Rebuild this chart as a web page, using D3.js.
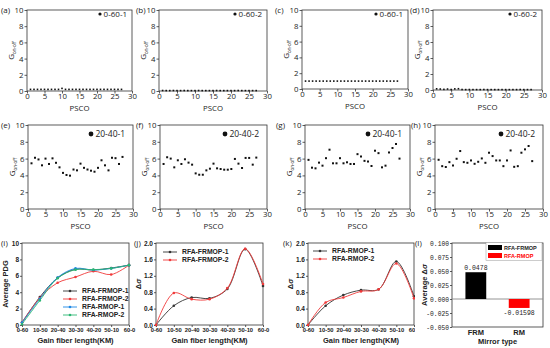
<!DOCTYPE html>
<html>
<head>
<meta charset="utf-8">
<script src="https://cdn.jsdelivr.net/npm/d3@7"></script>
<style>
  body { margin: 0; background: #fff; }
  svg { display: block; }
</style>
</head>
<body>
<div id="chart"></div>
<script>
// ---- data ----
const psco = [1, 2, 3, 4, 5, 6, 7, 8, 9, 10, 11, 12, 13, 14, 15, 16, 17, 18, 19, 20, 21, 22, 23, 24, 25, 26, 27];
const psTicks = [0, 5, 10, 15, 20, 25, 30];
const gTicks = [0, 2, 4, 6, 8, 10];

const onOffA = [0.2, 0.2, 0.2, 0.2, 0.2, 0.2, 0.2, 0.2, 0.2, 0.32, 0.2, 0.2, 0.2, 0.2, 0.2, 0.2, 0.2, 0.2, 0.2, 0.2, 0.2, 0.2, 0.2, 0.2, 0.2, 0.2, 0.2];
const onOffB = [0.06, 0.05, 0.05, 0.06, 0.05, 0.05, 0.06, 0.05, 0.05, 0.05, 0.06, 0.05, 0.05, 0.05, 0.05, 0.06, 0.05, 0.05, 0.05, 0.05, 0.05, 0.06, 0.05, 0.05, 0.05, 0.05, 0.05];
const onOffC = [1.0, 1.0, 1.0, 1.0, 1.0, 1.0, 1.0, 1.0, 1.0, 1.0, 1.0, 1.0, 1.0, 1.0, 1.0, 1.0, 1.0, 1.0, 1.0, 1.0, 1.0, 1.0, 1.0, 1.0, 1.0, 1.0, 1.0];
const onOffD = [0.15, 0.12, 0.08, 0.12, 0.06, 0.14, 0.16, 0.06, 0.05, 0.06, 0.05, 0.05, 0.05, 0.06, 0.05, 0.05, 0.05, 0.05, 0.05, 0.05, 0.05, 0.05, 0.05, 0.06, 0.05, 0.05, 0.05];
const onOffE = [5.44, 6.1, 5.9, 5.2, 6.0, 5.36, 6.03, 5.5, 4.96, 4.3, 4.05, 3.97, 4.7, 4.6, 5.4, 4.9, 4.7, 4.56, 4.44, 4.9, 5.8, 5.2, 4.6, 6.1, 6.05, 5.36, 6.2];
const onOffF = [5.36, 6.16, 6.0, 4.96, 5.8, 5.36, 5.92, 5.52, 5.28, 4.24, 4.08, 4.08, 4.6, 4.8, 5.4, 4.84, 4.76, 4.68, 4.68, 4.76, 5.96, 5.4, 4.88, 6.08, 6.08, 5.28, 6.12];
const onOffG = [5.85, 4.92, 4.84, 5.52, 5.16, 6.05, 7.06, 5.44, 5.44, 6.05, 5.44, 5.56, 5.36, 5.36, 6.53, 6.25, 5.73, 5.65, 5.12, 6.94, 6.65, 4.96, 5.16, 6.73, 7.26, 7.74, 6.0];
const onOffH = [5.86, 5.1, 5.0, 5.58, 5.18, 5.98, 6.9, 5.58, 5.5, 5.78, 5.38, 5.62, 6.02, 5.5, 6.7, 6.3, 5.78, 5.78, 5.1, 5.78, 6.97, 5.02, 5.1, 6.7, 7.1, 7.5, 5.7];

const fibers = ['0-60', '10-50', '20-40', '30-30', '40-20', '50-10', '60-0'];
const pdgFrmop1 = [0.3, 3.4, 5.75, 6.8, 6.7, 6.95, 7.3];
const pdgFrmop2 = [0.3, 3.3, 5.15, 5.85, 6.55, 6.15, 7.3];
const pdgRmop1 = [0.3, 3.2, 5.8, 6.9, 6.7, 6.9, 7.3];
const pdgRmop2 = [0.1, 3.0, 5.7, 6.75, 6.75, 6.9, 7.3];
const pdgTicks = [0, 2, 4, 6, 8, 10];

const dsFrmop1 = [0.0, 0.47, 0.67, 0.65, 0.88, 1.85, 0.95];
const dsFrmop2 = [0.0, 0.78, 0.63, 0.63, 0.9, 1.86, 1.0];
const dsRmop1 = [0.0, 0.47, 0.73, 0.85, 0.87, 1.55, 0.7];
const dsRmop2 = [0.0, 0.55, 0.67, 0.82, 0.87, 1.5, 0.65];
const dsTicks = [0, 0.4, 0.8, 1.2, 1.6, 2.0];

const mirrors = ['FRM', 'RM'];
const avgDs = [0.0478, -0.01598];
const avgLabels = ['0.0478', '-0.01598'];
const avgTicks = [0.1, 0.075, 0.05, 0.025, 0, -0.025, -0.05];

// ---- canvas ----
const svg = d3.select('#chart').append('svg')
  .attr('width', 550).attr('height', 348)
  .style('font-family', "'Open Sans', sans-serif");

const ink = '#222';

function styleAxis(ax, size, weight, family) {
  ax.select('.domain').remove();
  ax.selectAll('line').attr('stroke', '#333').attr('stroke-width', 0.8);
  ax.selectAll('text')
    .attr('fill', ink)
    .style('font-size', size + 'px')
    .style('font-weight', weight)
    .style('font-family', family);
}

function box(g, l, r, t, b) {
  g.append('rect')
    .attr('x', l).attr('y', t)
    .attr('width', r - l).attr('height', b - t)
    .attr('fill', 'none').attr('stroke', '#333').attr('stroke-width', 0.8);
}

// scatter panels (a)-(h)
function scatterPanel(p) {
  const x = d3.scaleLinear().domain([0, 30]).range([p.l, p.r]);
  const y = d3.scaleLinear().domain([0, 10]).range([p.b, p.t]);
  const g = svg.append('g');
  const sans = "'Open Sans', sans-serif";

  const xa = g.append('g').attr('transform', `translate(0,${p.b})`)
    .call(d3.axisBottom(x).tickValues(psTicks).tickSize(2.5).tickPadding(0));
  styleAxis(xa, 7.8, 400, sans);
  const ya = g.append('g').attr('transform', `translate(${p.l},0)`)
    .call(d3.axisLeft(y).tickValues(gTicks).tickSize(2.5).tickPadding(1));
  styleAxis(ya, 7.8, 400, sans);
  box(g, p.l, p.r, p.t, p.b);

  g.selectAll('rect.pt')
    .data(p.vals)
    .join('rect')
    .attr('class', 'pt')
    .attr('x', (d, i) => x(psco[i]) - p.ms / 2)
    .attr('y', (d) => y(d) - p.ms / 2)
    .attr('width', p.ms).attr('height', p.ms)
    .attr('fill', '#111');

  // legend
  g.append('circle').attr('cx', p.r - p.legDx).attr('cy', p.t + p.legDy)
    .attr('r', p.legR).attr('fill', '#111');
  g.append('text').attr('x', p.r - p.legDx + p.legR + 2).attr('y', p.t + p.legDy + 3)
    .attr('fill', ink).style('font-size', p.legSize + 'px').text(p.name);

  // titles
  g.append('text').attr('x', (p.l + p.r) / 2).attr('y', p.b + 19.5)
    .attr('text-anchor', 'middle').attr('fill', ink).style('font-size', '7.8px').text('PSCO');
  const yl = g.append('text')
    .attr('transform', `translate(${p.l - 13},${(p.t + p.b) / 2}) rotate(-90)`)
    .attr('text-anchor', 'middle').attr('fill', ink).style('font-size', '8px');
  yl.append('tspan').text('G');
  yl.append('tspan').attr('dy', 2).style('font-size', '4.5px').text('on-off');

  g.append('text').attr('x', p.lx).attr('y', p.t + 3)
    .attr('fill', ink).style('font-size', '8px').text(p.letter);
}

const rowA = { t: 10, legDx: 32, legDy: 4, legR: 1.6, legSize: 8, ms: 1.6 };
scatterPanel({ ...rowA, l: 27, r: 132, b: 91, vals: onOffA, name: '0-60-1', letter: '(a)', lx: 1 });
scatterPanel({ ...rowA, l: 159, r: 267, b: 91, vals: onOffB, name: '0-60-2', letter: '(b)', lx: 136 });
scatterPanel({ ...rowA, l: 302, r: 408, b: 89, vals: onOffC, name: '0-60-1', letter: '(c)', lx: 275 });
scatterPanel({ ...rowA, l: 433, r: 542, b: 90, vals: onOffD, name: '0-60-2', letter: '(d)', lx: 410 });

const rowE = { t: 125, b: 209, legDx: 42, legDy: 9, legR: 2.4, legSize: 8.5, ms: 2 };
scatterPanel({ ...rowE, l: 28, r: 133, vals: onOffE, name: '20-40-1', letter: '(e)', lx: 1 });
scatterPanel({ ...rowE, l: 160, r: 267, vals: onOffF, name: '20-40-2', letter: '(f)', lx: 136 });
scatterPanel({ ...rowE, l: 305, r: 410, vals: onOffG, name: '20-40-1', letter: '(g)', lx: 276 });
scatterPanel({ ...rowE, l: 435, r: 543, vals: onOffH, name: '20-40-2', letter: '(h)', lx: 411 });

// line panels (i)-(k)
const bold = "'Liberation Sans', Arial, sans-serif";

function linePanel(p) {
  const x = d3.scalePoint().domain(fibers).range([p.l, p.r]);
  const y = d3.scaleLinear().domain(p.yDomain).range([p.b, p.t]);
  const g = svg.append('g');

  const xa = g.append('g').attr('transform', `translate(0,${p.b})`)
    .call(d3.axisBottom(x).tickSize(2).tickPadding(1));
  styleAxis(xa, 5.8, 700, bold);
  const ya = g.append('g').attr('transform', `translate(${p.l},0)`)
    .call(d3.axisLeft(y).tickValues(p.yTicks).tickFormat(p.fmt).tickSize(2).tickPadding(1));
  styleAxis(ya, 6.5, 700, bold);
  box(g, p.l, p.r, p.t, p.b);

  const line = d3.line()
    .x((d, i) => x(fibers[i]))
    .y((d) => y(d))
    .curve(d3.curveCatmullRom.alpha(0.5));

  p.series.forEach((s) => {
    g.append('path').datum(s.vals)
      .attr('d', line).attr('fill', 'none')
      .attr('stroke', s.color).attr('stroke-width', 0.9);
    g.selectAll(null).data(s.vals).join('circle')
      .attr('cx', (d, i) => x(fibers[i])).attr('cy', (d) => y(d))
      .attr('r', 1.3).attr('fill', s.color);
  });

  // legend
  p.series.forEach((s, i) => {
    const ly = p.legY + i * p.legDy;
    g.append('line').attr('x1', p.legX).attr('x2', p.legX + 14)
      .attr('y1', ly).attr('y2', ly).attr('stroke', s.color).attr('stroke-width', 0.9);
    g.append('circle').attr('cx', p.legX + 7).attr('cy', ly).attr('r', 1.3).attr('fill', s.color);
    g.append('text').attr('x', p.legX + 19).attr('y', ly + 2.4)
      .attr('fill', ink).style('font-family', bold).style('font-weight', 700)
      .style('font-size', '6.8px').text(s.name);
  });

  g.append('text').attr('x', (p.l + p.r) / 2).attr('y', 343)
    .attr('text-anchor', 'middle').attr('fill', ink)
    .style('font-family', bold).style('font-weight', 700).style('font-size', '7.5px')
    .text('Gain fiber length(KM)');

  const yl = g.append('text')
    .attr('transform', `translate(${p.l - p.ylDx},${(p.t + p.b) / 2}) rotate(-90)`)
    .attr('text-anchor', 'middle').attr('fill', ink)
    .style('font-family', bold).style('font-weight', 700).style('font-size', '7.5px');
  if (p.ylabel) {
    yl.text(p.ylabel);
  } else {
    yl.append('tspan').text('Δ');
    yl.append('tspan').style('font-style', 'italic').text('σ');
  }

  g.append('text').attr('x', p.lx).attr('y', p.t + 3)
    .attr('fill', ink).style('font-size', '8px').text(p.letter);
}

const black = '#333';
const red = '#f03a3a';
const blue = '#1e88e5';
const green = '#2bb673';
const row3 = { t: 243, b: 325 };

linePanel({
  ...row3, l: 22, r: 129, yDomain: [0, 10], yTicks: pdgTicks, fmt: d3.format('d'),
  series: [
    { vals: pdgFrmop1, color: black, name: 'RFA-FRMOP-1' },
    { vals: pdgFrmop2, color: red, name: 'RFA-FRMOP-2' },
    { vals: pdgRmop1, color: blue, name: 'RFA-RMOP-1' },
    { vals: pdgRmop2, color: green, name: 'RFA-RMOP-2' },
  ],
  legX: 63, legY: 291, legDy: 8, ylabel: 'Average PDG', ylDx: 14, letter: '(i)', lx: 1,
});

linePanel({
  ...row3, l: 156, r: 263, yDomain: [0, 2], yTicks: dsTicks, fmt: d3.format('.1f'),
  series: [
    { vals: dsFrmop1, color: black, name: 'RFA-FRMOP-1' },
    { vals: dsFrmop2, color: red, name: 'RFA-FRMOP-2' },
  ],
  legX: 163, legY: 252, legDy: 8, ylabel: null, ylDx: 15, letter: '(j)', lx: 134,
});

linePanel({
  ...row3, l: 308, r: 414, yDomain: [0, 2], yTicks: dsTicks, fmt: d3.format('.1f'),
  series: [
    { vals: dsRmop1, color: black, name: 'RFA-RMOP-1' },
    { vals: dsRmop2, color: red, name: 'RFA-RMOP-2' },
  ],
  legX: 313, legY: 251, legDy: 8, ylabel: null, ylDx: 15, letter: '(k)', lx: 283,
});

// bar panel (l)
{
  const l = 452, r = 543, t = 243, b = 327;
  const mono = "'Liberation Mono', 'DejaVu Sans Mono', monospace";
  const g = svg.append('g');
  g.append('rect').attr('x', 415).attr('y', 232).attr('width', 135).attr('height', 116).attr('fill', '#fff');

  const x = d3.scaleBand().domain(mirrors).range([l, r]).paddingInner(0.52).paddingOuter(0.31);
  const y = d3.scaleLinear().domain([-0.05, 0.1]).range([b, t]);

  const ya = g.append('g').attr('transform', `translate(${l},0)`)
    .call(d3.axisLeft(y).tickValues(avgTicks).tickFormat((d) => d3.format('.3f')(d).replace('−', '-')).tickSize(2).tickPadding(1));
  styleAxis(ya, 6.3, 400, mono);
  const xa = g.append('g').attr('transform', `translate(0,${b})`)
    .call(d3.axisBottom(x).tickSize(0).tickPadding(3));
  styleAxis(xa, 7.5, 700, bold);
  box(g, l, r, t, b);

  g.append('line').attr('x1', l).attr('x2', r).attr('y1', y(0)).attr('y2', y(0))
    .attr('stroke', '#888').attr('stroke-width', 0.9);

  const colors = ['#000', '#ff0000'];
  g.selectAll('rect.bar').data(avgDs).join('rect')
    .attr('class', 'bar')
    .attr('x', (d, i) => x(mirrors[i]))
    .attr('y', (d) => y(Math.max(d, 0)))
    .attr('width', x.bandwidth())
    .attr('height', (d) => Math.abs(y(d) - y(0)))
    .attr('fill', (d, i) => colors[i]);

  g.selectAll('text.val').data(avgDs).join('text')
    .attr('class', 'val')
    .attr('x', (d, i) => x(mirrors[i]) + x.bandwidth() / 2)
    .attr('y', (d) => (d >= 0 ? y(d) - 2 : y(d) + 7))
    .attr('text-anchor', 'middle').attr('fill', ink)
    .style('font-family', mono).style('font-size', '6.5px')
    .text((d, i) => avgLabels[i]);

  // legend
  const legNames = ['RFA-FRMOP', 'RFA-RMOP'];
  g.append('rect').attr('x', 486).attr('y', 242.5).attr('width', 56).attr('height', 18)
    .attr('fill', '#fff').attr('stroke', '#999').attr('stroke-width', 0.5);
  legNames.forEach((n, i) => {
    g.append('rect').attr('x', 488).attr('y', 245 + i * 8).attr('width', 14).attr('height', 5)
      .attr('fill', colors[i]);
    g.append('text').attr('x', 504).attr('y', 250 + i * 8)
      .attr('fill', i ? '#ff0000' : ink)
      .style('font-family', bold).style('font-weight', 700).style('font-size', '5.5px')
      .text(n);
  });

  g.append('text').attr('x', (l + r) / 2).attr('y', 344)
    .attr('text-anchor', 'middle').attr('fill', ink)
    .style('font-family', bold).style('font-weight', 700).style('font-size', '7.5px')
    .text('Mirror type');

  const yl = g.append('text')
    .attr('transform', `translate(427,${(t + b) / 2}) rotate(-90)`)
    .attr('text-anchor', 'middle').attr('fill', ink)
    .style('font-family', bold).style('font-weight', 700).style('font-size', '7.5px');
  yl.append('tspan').text('Average Δ');
  yl.append('tspan').style('font-style', 'italic').text('σ');

  g.append('text').attr('x', 415).attr('y', t + 3)
    .attr('fill', ink).style('font-size', '8px').text('(l)');
}
</script>
</body>
</html>
